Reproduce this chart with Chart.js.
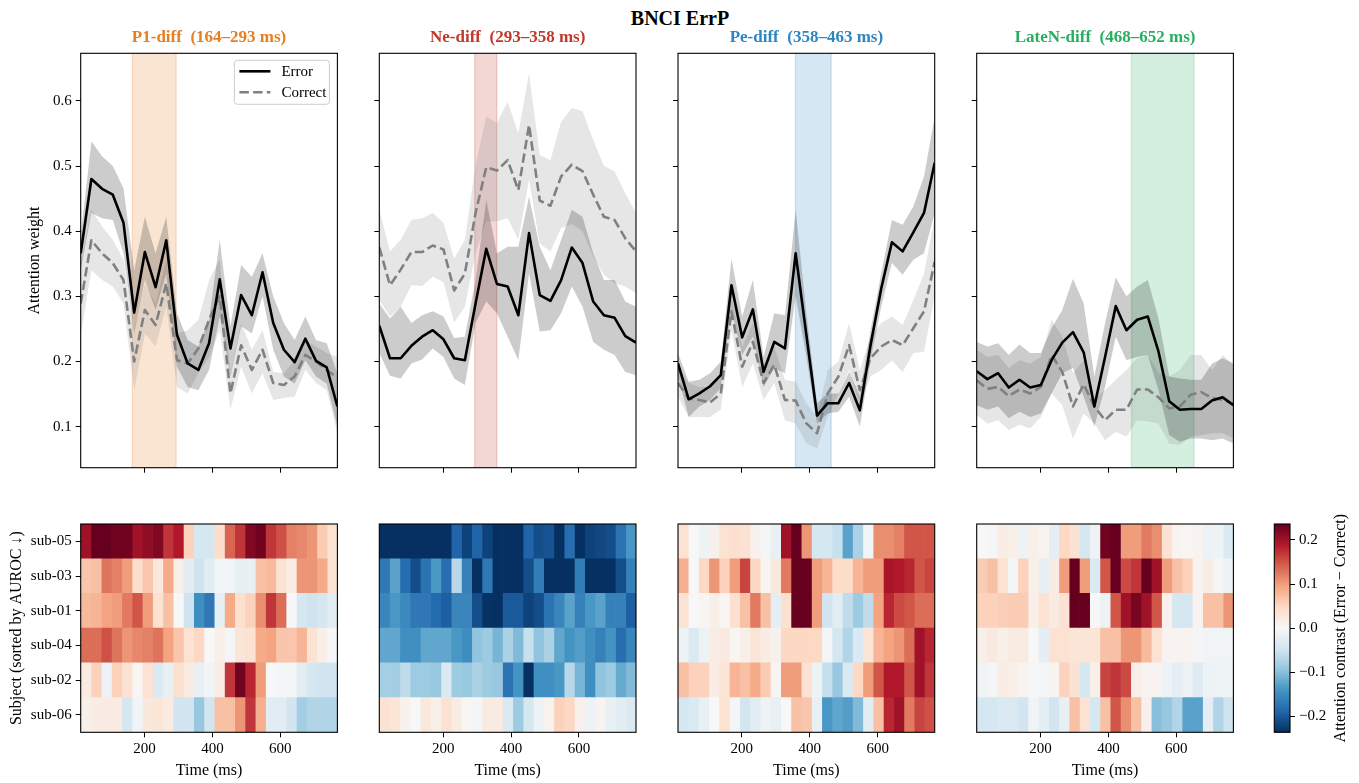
<!DOCTYPE html>
<html>
<head>
<meta charset="utf-8">
<script src="https://cdn.jsdelivr.net/npm/chart.js@4.4.1/dist/chart.umd.min.js"></script>
<style>
  html, body { margin:0; padding:0; background:#fff; }
  body { width:1359px; height:783px; position:relative; overflow:hidden; font-family:'Liberation Serif', 'Times New Roman', serif; }
  canvas { position:absolute; left:0; top:0; }
  #suptitle { position:absolute; left:0; width:1360px; top:6px; text-align:center; font-weight:bold; font-size:20px; line-height:24px; color:#000; }
</style>
</head>
<body>
<div id="suptitle">BNCI ErrP</div>
<canvas id="t0" width="1359" height="783"></canvas>
<canvas id="t1" width="1359" height="783"></canvas>
<canvas id="t2" width="1359" height="783"></canvas>
<canvas id="t3" width="1359" height="783"></canvas>
<canvas id="h0" width="1359" height="783"></canvas>
<canvas id="h1" width="1359" height="783"></canvas>
<canvas id="h2" width="1359" height="783"></canvas>
<canvas id="h3" width="1359" height="783"></canvas>
<canvas id="cb" width="1359" height="783"></canvas>
<script>
// ---------------- DATA ----------------
const times = [12, 43.5, 75, 106.5, 138, 169.5, 201, 232.5, 264, 295.5, 327, 358.5, 390, 421.5, 453, 484.5, 516, 547.5, 579, 610.5, 642, 673.5, 705, 736.5, 768];
const xTicks = [200, 400, 600];
const yTicks = [0.1, 0.2, 0.3, 0.4, 0.5, 0.6];
const cbTicks = [-0.2, -0.1, 0.0, 0.1, 0.2];
const subjects = ['sub-05', 'sub-03', 'sub-01', 'sub-04', 'sub-02', 'sub-06'];
const panelNames = ['P1-diff', 'Ne-diff', 'Pe-diff', 'LateN-diff'];
const windows = [[164, 293], [293, 358], [358, 463], [468, 652]];
const panelColors = ['#e67e22', '#c0392b', '#2e86c1', '#27ae60'];
const CB_MAX = 0.236;

// P1 panel
const p1ErrMean = [0.366,0.480,0.465,0.456,0.413,0.275,0.368,0.314,0.386,0.241,0.197,0.187,0.228,0.326,0.220,0.302,0.271,0.337,0.259,0.218,0.199,0.235,0.201,0.191,0.131];
const p1ErrHi   = [0.392,0.538,0.515,0.500,0.466,0.340,0.422,0.366,0.422,0.274,0.233,0.223,0.264,0.387,0.254,0.348,0.330,0.366,0.300,0.259,0.233,0.269,0.233,0.228,0.182];
const p1ErrLo   = [0.340,0.428,0.420,0.417,0.366,0.243,0.325,0.279,0.335,0.192,0.161,0.156,0.187,0.269,0.177,0.254,0.243,0.300,0.218,0.177,0.166,0.202,0.177,0.166,0.100];
const p1CorMean = [0.289,0.386,0.366,0.351,0.325,0.200,0.279,0.256,0.320,0.202,0.197,0.220,0.264,0.300,0.151,0.225,0.187,0.218,0.167,0.164,0.177,0.210,0.200,0.187,0.175];
const p1CorHi   = [0.350,0.433,0.407,0.387,0.356,0.248,0.320,0.289,0.356,0.243,0.248,0.264,0.325,0.356,0.182,0.259,0.218,0.248,0.184,0.182,0.202,0.233,0.223,0.213,0.207];
const p1CorLo   = [0.240,0.340,0.325,0.315,0.289,0.156,0.243,0.223,0.284,0.161,0.151,0.182,0.207,0.248,0.126,0.192,0.151,0.182,0.141,0.144,0.146,0.187,0.167,0.156,0.090];

// Ne panel
const neErrMean = [0.255,0.205,0.205,0.224,0.238,0.248,0.234,0.205,0.202,0.289,0.373,0.319,0.315,0.271,0.397,0.302,0.293,0.325,0.375,0.351,0.292,0.271,0.267,0.239,0.229];
const neErrHi   = [0.289,0.266,0.284,0.259,0.271,0.277,0.269,0.236,0.238,0.325,0.448,0.366,0.376,0.376,0.453,0.376,0.340,0.387,0.433,0.422,0.366,0.325,0.325,0.292,0.284];
const neErrLo   = [0.213,0.178,0.174,0.197,0.203,0.220,0.207,0.174,0.164,0.259,0.292,0.274,0.238,0.202,0.335,0.246,0.248,0.274,0.315,0.284,0.230,0.218,0.210,0.184,0.179];
const neCorMean = [0.375,0.317,0.341,0.368,0.368,0.378,0.372,0.309,0.335,0.428,0.498,0.493,0.509,0.463,0.563,0.447,0.439,0.484,0.502,0.492,0.456,0.422,0.417,0.389,0.369];
const neCorHi   = [0.433,0.369,0.387,0.417,0.420,0.428,0.413,0.358,0.387,0.502,0.576,0.566,0.599,0.550,0.642,0.517,0.509,0.568,0.589,0.584,0.540,0.500,0.492,0.458,0.428];
const neCorLo   = [0.294,0.269,0.284,0.317,0.316,0.330,0.322,0.260,0.284,0.366,0.415,0.415,0.420,0.387,0.479,0.381,0.369,0.405,0.411,0.400,0.361,0.333,0.320,0.315,0.305];

// Pe panel
const peErrMean = [0.197,0.142,0.151,0.162,0.179,0.317,0.237,0.280,0.184,0.230,0.220,0.366,0.241,0.117,0.136,0.136,0.167,0.125,0.225,0.312,0.383,0.369,0.398,0.428,0.505];
const peErrHi   = [0.213,0.169,0.172,0.182,0.200,0.358,0.269,0.325,0.207,0.274,0.271,0.433,0.274,0.136,0.151,0.151,0.184,0.148,0.248,0.335,0.417,0.410,0.438,0.484,0.576];
const peErrLo   = [0.177,0.115,0.131,0.141,0.159,0.277,0.210,0.238,0.161,0.190,0.182,0.300,0.207,0.105,0.120,0.123,0.146,0.100,0.202,0.284,0.351,0.333,0.356,0.366,0.428];
const peCorMean = [0.167,0.143,0.141,0.137,0.151,0.277,0.192,0.230,0.167,0.195,0.141,0.140,0.105,0.090,0.151,0.177,0.225,0.156,0.205,0.223,0.233,0.225,0.251,0.277,0.353];
const peCorHi   = [0.192,0.167,0.161,0.161,0.177,0.300,0.223,0.259,0.195,0.223,0.172,0.169,0.136,0.115,0.187,0.200,0.259,0.187,0.238,0.259,0.269,0.256,0.294,0.335,0.422];
const peCorLo   = [0.146,0.115,0.115,0.115,0.126,0.248,0.161,0.197,0.141,0.167,0.110,0.105,0.074,0.067,0.115,0.151,0.187,0.131,0.177,0.187,0.202,0.184,0.213,0.215,0.300];

// LateN panel
const lnErrMean = [0.185,0.173,0.182,0.160,0.172,0.160,0.164,0.202,0.229,0.245,0.214,0.131,0.207,0.285,0.248,0.264,0.269,0.215,0.139,0.126,0.127,0.127,0.140,0.145,0.133];
const lnErrHi   = [0.230,0.223,0.228,0.210,0.226,0.213,0.213,0.251,0.279,0.327,0.289,0.177,0.259,0.329,0.300,0.315,0.325,0.266,0.177,0.174,0.172,0.172,0.197,0.205,0.197];
const lnErrLo   = [0.133,0.126,0.131,0.113,0.123,0.115,0.120,0.151,0.182,0.190,0.146,0.100,0.161,0.238,0.202,0.207,0.210,0.156,0.087,0.077,0.082,0.082,0.079,0.082,0.074];
const lnCorMean = [0.171,0.158,0.161,0.147,0.157,0.151,0.161,0.210,0.184,0.131,0.165,0.131,0.110,0.126,0.126,0.157,0.157,0.145,0.128,0.131,0.149,0.153,0.144,0.141,0.135];
const lnCorHi   = [0.218,0.207,0.210,0.190,0.202,0.197,0.207,0.264,0.238,0.182,0.202,0.144,0.156,0.172,0.187,0.205,0.210,0.182,0.177,0.187,0.210,0.210,0.187,0.210,0.195];
const lnCorLo   = [0.118,0.105,0.110,0.095,0.103,0.097,0.115,0.151,0.133,0.082,0.120,0.105,0.079,0.092,0.085,0.110,0.108,0.105,0.074,0.072,0.085,0.087,0.090,0.090,0.082];

// Heatmaps (Error - Correct): rows follow `subjects`, columns follow `times`
const hmP1 = [
  [0.20,0.24,0.24,0.23,0.23,0.20,0.21,0.22,0.17,0.19,0.055,-0.042,-0.042,0.042,0.138,0.17,0.22,0.23,0.17,0.152,0.12,0.115,0.105,0.06,0.035],
  [0.066,0.071,0.128,0.12,0.10,0.042,0.066,0.026,0.09,0.014,-0.026,-0.049,-0.026,-0.009,-0.009,-0.021,-0.018,0.071,0.076,0.035,0.018,0.105,0.105,0.09,0.035],
  [0.076,0.081,0.095,0.10,0.124,0.148,0.10,0.035,0.071,0.0,-0.049,-0.146,-0.17,-0.021,0.09,0.038,0.055,0.11,0.17,0.132,0.0,-0.042,-0.049,-0.042,-0.026],
  [0.132,0.132,0.152,0.128,0.105,0.115,0.12,0.128,0.095,0.066,0.035,0.049,0.0,0.014,-0.005,0.031,0.035,0.09,0.095,0.066,0.066,0.081,0.035,0.014,0.0],
  [0.021,0.055,-0.014,0.055,0.035,0.004,0.035,-0.035,-0.018,0.038,0.021,-0.018,-0.007,0.018,0.17,0.23,0.18,0.10,0.0,-0.005,-0.005,-0.026,-0.042,-0.046,-0.046],
  [0.014,0.018,0.021,0.021,-0.042,-0.009,0.026,0.031,0.021,-0.046,-0.046,-0.09,-0.046,0.071,0.071,0.105,0.17,0.086,-0.026,-0.026,-0.046,-0.081,-0.071,-0.071,-0.071]
];
const hmNe = [
  [-0.24,-0.24,-0.24,-0.24,-0.24,-0.24,-0.24,-0.19,-0.22,-0.19,-0.22,-0.24,-0.24,-0.24,-0.19,-0.21,-0.205,-0.24,-0.18,-0.24,-0.22,-0.215,-0.21,-0.175,-0.138],
  [-0.17,-0.128,-0.18,-0.21,-0.175,-0.138,-0.18,-0.066,-0.16,-0.24,-0.17,-0.24,-0.24,-0.24,-0.21,-0.165,-0.24,-0.24,-0.24,-0.165,-0.24,-0.24,-0.24,-0.21,-0.16],
  [-0.156,-0.138,-0.152,-0.17,-0.17,-0.185,-0.195,-0.156,-0.156,-0.21,-0.235,-0.24,-0.2,-0.2,-0.22,-0.21,-0.175,-0.156,-0.128,-0.16,-0.138,-0.128,-0.16,-0.16,-0.195],
  [-0.124,-0.124,-0.146,-0.146,-0.124,-0.124,-0.124,-0.138,-0.148,-0.095,-0.086,-0.11,-0.076,-0.105,-0.055,-0.095,-0.076,-0.124,-0.142,-0.132,-0.146,-0.16,-0.142,-0.18,-0.156],
  [-0.081,-0.081,-0.06,-0.086,-0.086,-0.09,-0.035,-0.086,-0.09,-0.076,-0.086,-0.09,-0.175,-0.142,-0.24,-0.146,-0.146,-0.138,-0.066,-0.11,-0.146,-0.095,-0.086,-0.12,-0.105],
  [0.035,0.031,0.009,0.0,0.026,0.014,0.035,0.018,0.004,-0.004,0.021,0.021,-0.035,-0.086,-0.042,-0.014,0.009,0.055,0.049,0.011,-0.014,0.007,-0.018,-0.026,-0.035]
];
const hmPe = [
  [0.035,0.0,-0.012,0.011,0.035,0.04,0.035,0.011,-0.004,-0.018,0.20,0.24,0.105,-0.042,-0.042,-0.055,-0.128,-0.076,-0.007,0.11,0.11,0.12,0.148,0.148,0.148],
  [0.086,0.0,0.049,0.105,0.055,0.10,0.16,0.049,0.005,0.026,0.124,0.24,0.24,0.10,0.081,0.046,0.046,0.081,0.10,0.10,0.195,0.19,0.18,0.148,0.16],
  [0.035,0.0,0.005,0.014,0.004,0.038,0.071,0.124,0.071,-0.023,0.038,0.24,0.24,0.10,-0.046,-0.026,-0.06,-0.086,-0.06,0.095,0.18,0.156,0.148,0.132,0.132],
  [-0.012,-0.035,-0.012,0.018,0.023,0.004,0.014,0.031,0.018,0.011,0.049,0.049,0.049,0.049,-0.005,-0.042,-0.071,-0.035,0.031,0.081,0.095,0.105,0.132,0.2,0.18],
  [0.071,0.055,0.055,0.018,0.031,0.081,0.071,0.09,0.06,0.005,0.10,0.10,0.035,-0.012,-0.055,-0.09,-0.035,0.049,0.10,0.148,0.19,0.19,0.148,0.2,0.17],
  [-0.042,-0.035,-0.018,0.0,0.035,-0.004,-0.046,-0.026,-0.012,-0.018,0.0,0.071,0.066,-0.018,-0.138,-0.124,-0.132,-0.105,-0.026,0.071,0.18,0.2,0.124,0.16,0.152]
];
const hmLateN = [
  [0.0,-0.005,0.018,0.014,-0.012,0.014,0.007,-0.023,0.049,0.035,-0.042,-0.014,0.23,0.24,0.10,0.10,0.124,0.11,0.035,0.007,0.004,0.007,-0.014,-0.011,-0.035],
  [0.06,0.071,0.035,-0.004,0.055,0.014,-0.021,0.018,0.10,0.24,0.10,-0.035,0.148,0.24,0.156,0.17,0.24,0.2,0.10,0.071,0.055,0.007,0.018,-0.004,-0.014],
  [0.055,0.055,0.058,0.06,0.06,0.014,0.035,0.021,0.035,0.24,0.24,0.0,-0.014,0.148,0.2,0.225,0.2,0.148,0.011,-0.042,-0.042,0.007,0.071,0.071,0.105],
  [0.014,0.023,0.014,0.021,0.021,0.0,-0.023,0.035,0.035,0.031,0.031,0.031,0.071,0.071,0.105,0.105,0.076,0.035,0.007,0.007,0.007,-0.005,-0.007,-0.007,-0.007],
  [-0.011,-0.004,0.018,0.014,0.007,-0.002,-0.004,0.007,0.055,0.035,-0.042,0.014,0.16,0.17,0.156,0.014,0.007,0.007,-0.014,-0.023,-0.014,-0.031,-0.014,-0.011,-0.011],
  [-0.042,-0.042,-0.035,-0.035,-0.046,-0.007,-0.023,-0.046,-0.018,0.071,0.035,-0.042,0.071,0.148,0.11,0.071,0.011,-0.10,-0.09,-0.071,-0.128,-0.128,-0.023,-0.071,-0.049]
];

const topData = [
  {errMean:p1ErrMean, errHi:p1ErrHi, errLo:p1ErrLo, corMean:p1CorMean, corHi:p1CorHi, corLo:p1CorLo},
  {errMean:neErrMean, errHi:neErrHi, errLo:neErrLo, corMean:neCorMean, corHi:neCorHi, corLo:neCorLo},
  {errMean:peErrMean, errHi:peErrHi, errLo:peErrLo, corMean:peCorMean, corHi:peCorHi, corLo:peCorLo},
  {errMean:lnErrMean, errHi:lnErrHi, errLo:lnErrLo, corMean:lnCorMean, corHi:lnCorHi, corLo:lnCorLo}
];
const hmData = [hmP1, hmNe, hmPe, hmLateN];

// ---------------- LAYOUT ----------------
const W = 1359, H = 783;
const PL = [80.7, 379.3, 678.0, 976.7];
const PW = 256.7;
const TOP_T = 53.3, TOP_B = 467.7;
const HM_T = 524.0, HM_B = 732.3;
const CB_L = 1274.3, CB_R = 1290.0;
const FONT = "'Liberation Serif', 'Times New Roman', serif";
const TICK_FONT = {family: FONT, size: 15};
const LABEL_FONT = {family: FONT, size: 16};

Chart.defaults.font.family = FONT;
Chart.defaults.color = '#000';

const RDBU = [[5,48,97],[33,102,172],[67,147,195],[146,197,222],[209,229,240],[247,247,247],[253,219,199],[244,165,130],[214,96,77],[178,24,43],[103,0,31]];
function rdbu(v) {
  let t = (v / CB_MAX + 1) / 2 * 10;
  t = Math.max(0, Math.min(10, t));
  const i = Math.min(9, Math.floor(t)), f = t - i;
  const a = RDBU[i], b = RDBU[i + 1];
  return 'rgb(' + a.map((c, j) => Math.round(c + (b[j] - c) * f)).join(',') + ')';
}
function hexA(hex, a) {
  const n = parseInt(hex.slice(1), 16);
  return `rgba(${(n >> 16) & 255},${(n >> 8) & 255},${n & 255},${a})`;
}
const fixTicks = arr => s => { s.ticks = arr.map(v => ({value: v})); };
const fmt1 = v => (v < 0 ? '\u2212' : '') + Math.abs(v).toFixed(1);

const framePlugin = {
  id: 'frame',
  afterDraw(chart) {
    const {ctx, chartArea: a} = chart;
    ctx.save();
    ctx.strokeStyle = '#000';
    ctx.lineWidth = 1.1;
    ctx.strokeRect(a.left, a.top, a.right - a.left, a.bottom - a.top);
    ctx.restore();
  }
};

function windowPlugin(k) {
  return {
    id: 'win' + k,
    beforeDatasetsDraw(chart) {
      const {ctx, chartArea: a, scales: {x}} = chart;
      const x0 = x.getPixelForValue(windows[k][0]), x1 = x.getPixelForValue(windows[k][1]);
      ctx.save();
      ctx.fillStyle = hexA(panelColors[k], 0.2);
      ctx.fillRect(x0, a.top, x1 - x0, a.bottom - a.top);
      ctx.strokeStyle = hexA(panelColors[k], 0.2);
      ctx.lineWidth = 1.4;
      ctx.beginPath();
      ctx.moveTo(x0, a.top); ctx.lineTo(x0, a.bottom);
      ctx.moveTo(x1, a.top); ctx.lineTo(x1, a.bottom);
      ctx.stroke();
      ctx.restore();
    }
  };
}

function panelTitlePlugin(k) {
  return {
    id: 'ptitle' + k,
    afterDraw(chart) {
      const {ctx, chartArea: a} = chart;
      ctx.save();
      ctx.font = 'bold 17px ' + FONT;
      ctx.fillStyle = panelColors[k];
      ctx.textAlign = 'center';
      ctx.textBaseline = 'middle';
      ctx.fillText(panelNames[k] + '  (' + windows[k][0] + '\u2013' + windows[k][1] + ' ms)', (a.left + a.right) / 2, 37.5);
      ctx.restore();
    }
  };
}

const legendPlugin = {
  id: 'lgd',
  afterDatasetsDraw(chart) {
    const {ctx, chartArea: a} = chart;
    const w = 95, h = 44;
    const x = a.right - 8 - w, y = a.top + 7;
    ctx.save();
    ctx.beginPath();
    ctx.roundRect(x, y, w, h, 3);
    ctx.fillStyle = 'rgba(255,255,255,0.8)';
    ctx.fill();
    ctx.strokeStyle = '#cccccc';
    ctx.lineWidth = 1;
    ctx.stroke();
    [0, 1].forEach((di, i) => {
      const ds = chart.data.datasets[di];
      const ly = y + 11 + i * 21;
      ctx.beginPath();
      ctx.setLineDash(ds.borderDash || []);
      ctx.strokeStyle = ds.borderColor;
      ctx.lineWidth = ds.borderWidth;
      ctx.moveTo(x + 5, ly); ctx.lineTo(x + 36, ly);
      ctx.stroke();
      ctx.setLineDash([]);
      ctx.fillStyle = '#000';
      ctx.font = '15px ' + FONT;
      ctx.textBaseline = 'middle';
      ctx.textAlign = 'left';
      ctx.fillText(ds.label, x + 47, ly + 1);
    });
    ctx.restore();
  }
};

function mkTop(k) {
  const L = PL[k], R = PL[k] + PW;
  const yW = 75, xH = 8;
  const d = topData[k];
  const pts = arr => arr.map((v, i) => ({x: times[i], y: v}));
  const none = 'rgba(0,0,0,0)';
  new Chart(document.getElementById('t' + k), {
    type: 'line',
    data: {datasets: [
      {label: 'Error', data: pts(d.errMean), borderColor: '#000', borderWidth: 2.6, fill: false, order: 0},
      {label: 'Correct', data: pts(d.corMean), borderColor: '#808080', borderWidth: 2.6, borderDash: [9.5, 4.2], fill: false, order: 1},
      {label: 'errHi', data: pts(d.errHi), fill: '+1', backgroundColor: 'rgba(0,0,0,0.2)', borderColor: none, borderWidth: 0, order: 2},
      {label: 'errLo', data: pts(d.errLo), fill: false, borderColor: none, borderWidth: 0, order: 3},
      {label: 'corHi', data: pts(d.corHi), fill: '+1', backgroundColor: 'rgba(128,128,128,0.2)', borderColor: none, borderWidth: 0, order: 4},
      {label: 'corLo', data: pts(d.corLo), fill: false, borderColor: none, borderWidth: 0, order: 5}
    ]},
    options: {
      responsive: false, animation: false, devicePixelRatio: 1, events: [],
      layout: {padding: {left: L - yW, right: W - R, top: TOP_T, bottom: H - TOP_B - xH}},
      elements: {point: {radius: 0}, line: {tension: 0, borderJoinStyle: 'round'}},
      plugins: {legend: {display: false}, tooltip: {enabled: false}, title: {display: false}},
      scales: {
        x: {
          type: 'linear', min: times[0], max: times[times.length - 1],
          afterBuildTicks: fixTicks(xTicks), afterFit: s => { s.height = xH; },
          ticks: {display: false},
          grid: {drawOnChartArea: false, drawTicks: true, tickLength: 5, color: '#000', lineWidth: 1},
          border: {display: false}
        },
        y: {
          type: 'linear', min: 0.037, max: 0.673,
          afterBuildTicks: fixTicks(yTicks), afterFit: s => { s.width = yW; },
          ticks: {display: k === 0, font: TICK_FONT, color: '#000', padding: 4, callback: v => fmt1(v)},
          title: {display: k === 0, text: 'Attention weight', font: LABEL_FONT, color: '#000', padding: {top: 19}},
          grid: {drawOnChartArea: false, drawTicks: true, tickLength: 5, color: '#000', lineWidth: 1},
          border: {display: false}
        }
      }
    },
    plugins: [windowPlugin(k), framePlugin, panelTitlePlugin(k)].concat(k === 0 ? [legendPlugin] : [])
  });
}

function mkHeat(k) {
  const L = PL[k], R = PL[k] + PW;
  const yW = 75, xH = 50;
  const vals = hmData[k];
  const n = times.length, t0 = times[0], t1 = times[n - 1], cw = (t1 - t0) / n;
  const datasets = times.map((_, c) => ({
    data: subjects.map(() => [t0 + c * cw, t0 + (c + 1) * cw]),
    backgroundColor: subjects.map((_, r) => rdbu(vals[r][c])),
    borderWidth: 0, grouped: false, barPercentage: 1, categoryPercentage: 1
  }));
  new Chart(document.getElementById('h' + k), {
    type: 'bar',
    data: {labels: subjects, datasets},
    options: {
      indexAxis: 'y',
      responsive: false, animation: false, devicePixelRatio: 1, events: [],
      layout: {padding: {left: L - yW, right: W - R, top: HM_T, bottom: H - HM_B - xH}},
      plugins: {legend: {display: false}, tooltip: {enabled: false}},
      scales: {
        x: {
          type: 'linear', min: t0, max: t1,
          afterBuildTicks: fixTicks(xTicks), afterFit: s => { s.height = xH; },
          ticks: {font: TICK_FONT, color: '#000', padding: 3, maxRotation: 0},
          title: {display: true, text: 'Time (ms)', font: LABEL_FONT, color: '#000', padding: {bottom: 1.5}},
          grid: {drawOnChartArea: false, drawTicks: true, tickLength: 5, color: '#000', lineWidth: 1},
          border: {display: false}
        },
        y: {
          type: 'category', offset: true,
          afterFit: s => { s.width = yW; },
          ticks: {display: k === 0, font: TICK_FONT, color: '#000', padding: 4},
          title: {display: k === 0, text: 'Subject (sorted by AUROC \u2193)', font: LABEL_FONT, color: '#000', padding: {top: 1.5}},
          grid: {display: k === 0, offset: false, drawOnChartArea: false, drawTicks: true, tickLength: 5, color: '#000', lineWidth: 1},
          border: {display: false}
        }
      }
    },
    plugins: [framePlugin]
  });
}

function mkColorbar() {
  const cbW = 45;
  const gradPlugin = {
    id: 'grad',
    beforeDatasetsDraw(chart) {
      const {ctx, chartArea: a, scales: {y}} = chart;
      const yb = y.getPixelForValue(-CB_MAX), yt = y.getPixelForValue(CB_MAX);
      const g = ctx.createLinearGradient(0, yb, 0, yt);
      RDBU.forEach((c, i) => g.addColorStop(i / 10, `rgb(${c.join(',')})`));
      ctx.save();
      ctx.fillStyle = g;
      ctx.fillRect(a.left, a.top, a.right - a.left, a.bottom - a.top);
      ctx.restore();
    }
  };
  const labelPlugin = {
    id: 'cblabel',
    afterDraw(chart) {
      const {ctx, chartArea: a} = chart;
      ctx.save();
      ctx.translate(1341, (a.top + a.bottom) / 2);
      ctx.rotate(-Math.PI / 2);
      ctx.font = '16px ' + FONT;
      ctx.fillStyle = '#000';
      ctx.textAlign = 'center';
      ctx.textBaseline = 'middle';
      ctx.fillText('Attention contrast (Error \u2212 Correct)', 0, 0);
      ctx.restore();
    }
  };
  new Chart(document.getElementById('cb'), {
    type: 'scatter',
    data: {datasets: [{data: []}]},
    options: {
      responsive: false, animation: false, devicePixelRatio: 1, events: [],
      layout: {padding: {left: CB_L, right: W - CB_R - cbW, top: HM_T, bottom: H - HM_B}},
      plugins: {legend: {display: false}, tooltip: {enabled: false}},
      scales: {
        x: {display: false, type: 'linear', min: 0, max: 1},
        y: {
          position: 'right', type: 'linear', min: -CB_MAX, max: CB_MAX,
          afterBuildTicks: fixTicks(cbTicks), afterFit: s => { s.width = cbW; },
          ticks: {font: TICK_FONT, color: '#000', padding: 4, callback: v => fmt1(v)},
          grid: {drawOnChartArea: false, drawTicks: true, tickLength: 5, color: '#000', lineWidth: 1},
          border: {display: false}
        }
      }
    },
    plugins: [gradPlugin, framePlugin, labelPlugin]
  });
}

for (let k = 0; k < 4; k++) { mkTop(k); mkHeat(k); }
mkColorbar();
</script>
</body>
</html>
